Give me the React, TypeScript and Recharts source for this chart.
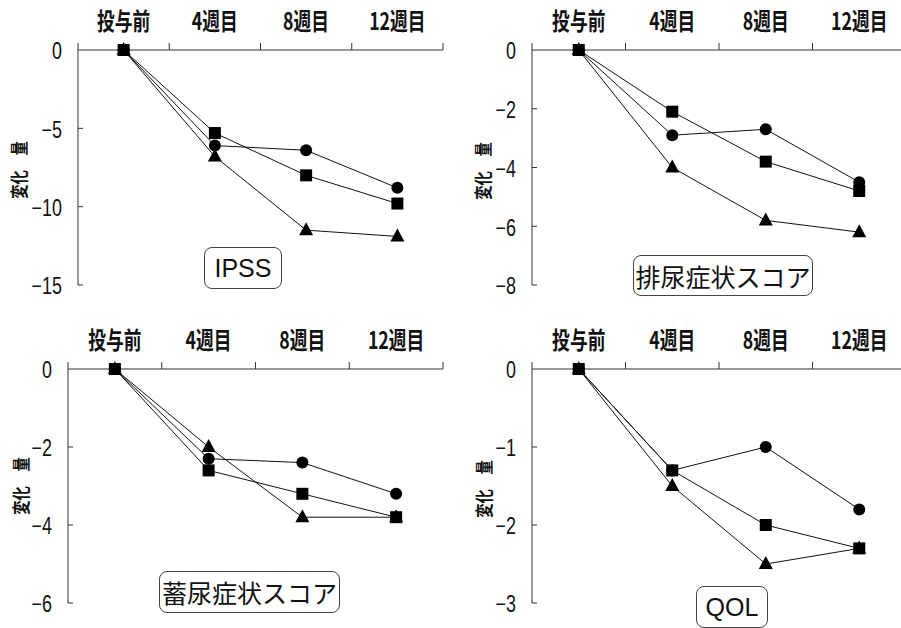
import React from "react"
import { LineChart, Line, XAxis, YAxis } from "recharts"

// ── Data ──────────────────────────────────────────────────────────────
const weeks = ["投与前", "4週目", "8週目", "12週目"]

const ipssCircle = [0, -6.1, -6.4, -8.8]
const ipssSquare = [0, -5.3, -8.0, -9.8]
const ipssTriangle = [0, -6.8, -11.5, -11.9]
const ipssTicks = [0, -5, -10, -15]

const voidCircle = [0, -2.9, -2.7, -4.5]
const voidSquare = [0, -2.1, -3.8, -4.8]
const voidTriangle = [0, -4.0, -5.8, -6.2]
const voidTicks = [0, -2, -4, -6, -8]

const storeCircle = [0, -2.3, -2.4, -3.2]
const storeSquare = [0, -2.6, -3.2, -3.8]
const storeTriangle = [0, -2.0, -3.8, -3.8]
const storeTicks = [0, -2, -4, -6]

const qolCircle = [0, -1.3, -1.0, -1.8]
const qolSquare = [0, -1.3, -2.0, -2.3]
const qolTriangle = [0, -1.5, -2.5, -2.3]
const qolTicks = [0, -1, -2, -3]

const X_AXIS_H = 30
const Y_AXIS_W = 40

// ── Markers ───────────────────────────────────────────────────────────
const circleDot = (p: any) => (
  <circle key={`c${p.index}`} cx={p.cx} cy={p.cy} r={6} fill="#000" />
)
const squareDot = (p: any) => (
  <rect key={`s${p.index}`} x={p.cx - 6} y={p.cy - 6} width={12} height={12} fill="#000" />
)
const triangleDot = (p: any) => (
  <path
    key={`t${p.index}`}
    d={`M${p.cx},${p.cy - 8} L${p.cx + 7},${p.cy + 5} L${p.cx - 7},${p.cy + 5} Z`}
    fill="#000"
  />
)

// ── Panel ─────────────────────────────────────────────────────────────
interface PanelProps {
  top: number
  left: number
  width: number
  plotLeft: number
  plotRight: number
  plotTop: number
  plotBottom: number
  circle: number[]
  square: number[]
  triangle: number[]
  ticks: number[]
}

function Panel({
  top,
  left,
  width,
  plotLeft,
  plotRight,
  plotTop,
  plotBottom,
  circle,
  square,
  triangle,
  ticks,
}: PanelProps) {
  const data = weeks.map((w, i) => ({
    week: w,
    circle: circle[i],
    square: square[i],
    triangle: triangle[i],
  }))
  const height = plotBottom + 22
  const band = (plotRight - plotLeft) / weeks.length
  const min = Math.min(...ticks)

  const xTick = (props: any) => {
    const { x, payload, index } = props
    return (
      <g>
        <text
          transform={`translate(${x},${plotTop - 30}) scale(0.74,1)`}
          textAnchor="middle"
          dominantBaseline="central"
          fontFamily="'Noto Sans CJK JP', sans-serif"
          fontWeight={700}
          fontSize={24}
          fill="#111"
        >
          {payload.value}
        </text>
        <line x1={x + band / 2} x2={x + band / 2} y1={plotTop - 7} y2={plotTop} stroke="#333" />
        {index === 0 && (
          <line x1={x - band / 2} x2={x - band / 2} y1={plotTop - 7} y2={plotTop} stroke="#333" />
        )}
      </g>
    )
  }

  const yTick = (props: any) => {
    const { y, payload } = props
    return (
      <g>
        {payload.value !== 0 && (
          <line x1={plotLeft} x2={plotLeft + 5} y1={y} y2={y} stroke="#333" />
        )}
        <text
          transform={`translate(${plotLeft - 16},${y + 1}) scale(0.78,1)`}
          textAnchor="end"
          dominantBaseline="central"
          fontFamily="'Liberation Sans', Arial, sans-serif"
          fontSize={23}
          fill="#111"
        >
          {payload.value === 0 ? "0" : `−${Math.abs(payload.value)}`}
        </text>
      </g>
    )
  }

  return (
    <div style={{ position: "absolute", left, top }}>
      <LineChart
        width={width}
        height={height}
        data={data}
        margin={{
          top: plotTop - X_AXIS_H,
          left: plotLeft - Y_AXIS_W,
          right: width - plotRight,
          bottom: height - plotBottom,
        }}
      >
        <XAxis
          dataKey="week"
          orientation="top"
          height={X_AXIS_H}
          interval={0}
          padding={{ left: band / 2, right: band / 2 }}
          axisLine={{ stroke: "#333" }}
          tickLine={false}
          tick={xTick}
        />
        <YAxis
          type="number"
          domain={[min, 0]}
          ticks={ticks}
          width={Y_AXIS_W}
          interval={0}
          axisLine={{ stroke: "#333" }}
          tickLine={false}
          tick={yTick}
        />
        <Line
          dataKey="circle"
          stroke="#111"
          strokeWidth={1}
          dot={circleDot}
          activeDot={false}
          isAnimationActive={false}
        />
        <Line
          dataKey="triangle"
          stroke="#111"
          strokeWidth={1}
          dot={triangleDot}
          activeDot={false}
          isAnimationActive={false}
        />
        <Line
          dataKey="square"
          stroke="#111"
          strokeWidth={1}
          dot={squareDot}
          activeDot={false}
          isAnimationActive={false}
        />
      </LineChart>
    </div>
  )
}

// ── Decorations ───────────────────────────────────────────────────────
function TitleBox({ x, y, w, h, text }: { x: number; y: number; w: number; h: number; text: string }) {
  return (
    <div
      style={{
        position: "absolute",
        left: x,
        top: y,
        width: w,
        height: h,
        boxSizing: "border-box",
        border: "1.5px solid #444",
        borderRadius: 8,
        background: "#fff",
        display: "flex",
        alignItems: "center",
        justifyContent: "center",
        fontFamily: "'Liberation Sans', 'Noto Sans CJK JP', sans-serif",
        fontSize: 25,
        color: "#111",
      }}
    >
      {text}
    </div>
  )
}

function YLabel({ cx, cy }: { cx: number; cy: number }) {
  return (
    <div
      style={{
        position: "absolute",
        left: cx - 40,
        top: cy - 11,
        width: 80,
        height: 22,
        lineHeight: "22px",
        textAlign: "center",
        transform: "rotate(-90deg) scale(0.8,1)",
        fontFamily: "'Noto Sans CJK JP', sans-serif",
        fontWeight: 700,
        fontSize: 18,
        color: "#111",
      }}
    >
      変化　量
    </div>
  )
}

export default function App() {
  return (
    <div
      style={{
        position: "absolute",
        left: 0,
        top: 0,
        width: 901,
        height: 628,
        overflow: "hidden",
        background: "#fff",
      }}
    >
      <Panel
        left={0} top={0} width={450}
        plotLeft={78} plotRight={443} plotTop={50} plotBottom={285}
        circle={ipssCircle} square={ipssSquare} triangle={ipssTriangle} ticks={ipssTicks}
      />
      <Panel
        left={450} top={0} width={460}
        plotLeft={82} plotRight={456} plotTop={50} plotBottom={285}
        circle={voidCircle} square={voidSquare} triangle={voidTriangle} ticks={voidTicks}
      />
      <Panel
        left={0} top={310} width={450}
        plotLeft={68} plotRight={443} plotTop={59} plotBottom={293}
        circle={storeCircle} square={storeSquare} triangle={storeTriangle} ticks={storeTicks}
      />
      <Panel
        left={450} top={310} width={460}
        plotLeft={82} plotRight={456} plotTop={59} plotBottom={293}
        circle={qolCircle} square={qolSquare} triangle={qolTriangle} ticks={qolTicks}
      />

      <YLabel cx={18} cy={170} />
      <YLabel cx={482} cy={171} />
      <YLabel cx={20} cy={486} />
      <YLabel cx={483} cy={489} />

      <TitleBox x={204} y={247} w={78} h={42} text="IPSS" />
      <TitleBox x={633} y={255} w={180} h={41} text="排尿症状スコア" />
      <TitleBox x={159} y={571} w={181} h={42} text="蓄尿症状スコア" />
      <TitleBox x={696} y={586} w={72} h={42} text="QOL" />
    </div>
  )
}
